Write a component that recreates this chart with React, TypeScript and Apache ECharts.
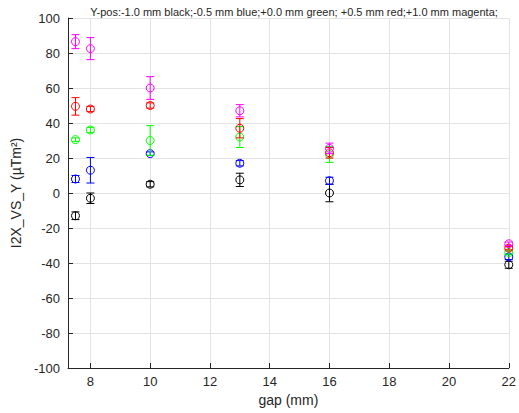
import React, { useEffect, useRef } from "react";
import * as echarts from "echarts";

const gaps = [7.5, 8, 10, 13, 16, 22];
const xTicks = [8, 10, 12, 14, 16, 18, 20, 22];

const blackVals = [-13, -3, 5, 7.5, 0, -41];
const blackErr = [2.2, 3, 1.5, 3.8, 5, 2];
const blueVals = [8, 13, 22.5, 17, 7, -36.5];
const blueErr = [2, 7.3, 1, 1.5, 2, 1.5];
const greenVals = [30.5, 36, 30, 32, 22, -34];
const greenErr = [1, 1.5, 8.5, 6, 4.5, 1];
const redVals = [49.5, 48, 50, 37, 23, -31.5];
const redErr = [5, 1.5, 1.5, 5.5, 3, 1];
const magentaVals = [86.5, 82.5, 60, 47, 25.5, -29];
const magentaErr = [4, 6.3, 6.5, 3.5, 3, 1];

const groups = [
  { name: "-1.0 mm", color: "#000000", vals: blackVals, err: blackErr },
  { name: "-0.5 mm", color: "#0000FF", vals: blueVals, err: blueErr },
  { name: "+0.0 mm", color: "#00FF00", vals: greenVals, err: greenErr },
  { name: "+0.5 mm", color: "#FF0000", vals: redVals, err: redErr },
  { name: "+1.0 mm", color: "#FF00FF", vals: magentaVals, err: magentaErr },
];

export default function App() {
  const ref = useRef<HTMLDivElement>(null);
  useEffect(() => {
    if (!ref.current) return;
    const chart = echarts.init(ref.current, undefined, { renderer: "svg" });
    const font = "'Liberation Sans', Arial, Helvetica, sans-serif";
    const series: any[] = groups.map((g) => ({
      type: "custom",
      name: g.name,
      clip: false,
      data: gaps.map((x, i) => [x, g.vals[i], g.vals[i] - g.err[i], g.vals[i] + g.err[i]]),
      encode: { x: 0, y: 1 },
      renderItem: (params: any, api: any) => {
        const x = api.value(0);
        const y = api.value(1);
        const lo = api.value(2);
        const hi = api.value(3);
        const c = api.coord([x, y]);
        const cl = api.coord([x, lo]);
        const ch = api.coord([x, hi]);
        const cap = 4;
        const st = { stroke: g.color, lineWidth: 1, fill: "none" };
        return {
          type: "group",
          children: [
            { type: "line", shape: { x1: cl[0], y1: cl[1], x2: ch[0], y2: ch[1] }, style: st },
            { type: "line", shape: { x1: ch[0] - cap, y1: ch[1], x2: ch[0] + cap, y2: ch[1] }, style: st },
            { type: "line", shape: { x1: cl[0] - cap, y1: cl[1], x2: cl[0] + cap, y2: cl[1] }, style: st },
            { type: "circle", shape: { cx: c[0], cy: c[1], r: 4 }, style: st },
          ],
        };
      },
    }));
    chart.setOption({
      animation: false,
      backgroundColor: "#ffffff",
      title: {
        text: "Y-pos:-1.0 mm black;-0.5 mm blue;+0.0 mm green; +0.5 mm red;+1.0 mm magenta;",
        left: 289,
        top: 1,
        textAlign: "center",
        textStyle: { fontFamily: font, fontSize: 11, fontWeight: "normal", color: "#262626" },
      },
      grid: { left: 68, right: 8, top: 18, bottom: 45 },
      xAxis: {
        type: "value",
        min: 7.25,
        max: 22,
        name: "gap (mm)",
        nameLocation: "middle",
        nameGap: 21,
        nameTextStyle: { fontFamily: font, fontSize: 14, color: "#262626" },
        axisLine: { show: true, onZero: false, lineStyle: { color: "#262626", width: 1 } },
        axisTick: { show: true, inside: true, length: 5, customValues: xTicks, lineStyle: { color: "#262626" } },
        axisLabel: { customValues: xTicks, fontFamily: font, fontSize: 13, color: "#262626", margin: 7 },
        splitLine: { show: true, lineStyle: { color: "#e3e3e3", width: 1 } },
      },
      yAxis: {
        type: "value",
        min: -100,
        max: 100,
        interval: 20,
        name: "I2X_VS_Y (µTm²)",
        nameLocation: "middle",
        nameGap: 38,
        nameRotate: 90,
        nameTextStyle: { fontFamily: font, fontSize: 14, color: "#262626" },
        axisLine: { show: true, onZero: false, lineStyle: { color: "#262626", width: 1 } },
        axisTick: { show: true, inside: true, length: 5, lineStyle: { color: "#262626" } },
        axisLabel: { fontFamily: font, fontSize: 13, color: "#262626", margin: 8 },
        splitLine: { show: true, lineStyle: { color: "#e3e3e3", width: 1 } },
      },
      series,
    });
    return () => chart.dispose();
  }, []);
  return (
    <div
      ref={ref}
      style={{ position: "fixed", left: 0, top: 0, width: 519, height: 413 }}
    />
  );
}
